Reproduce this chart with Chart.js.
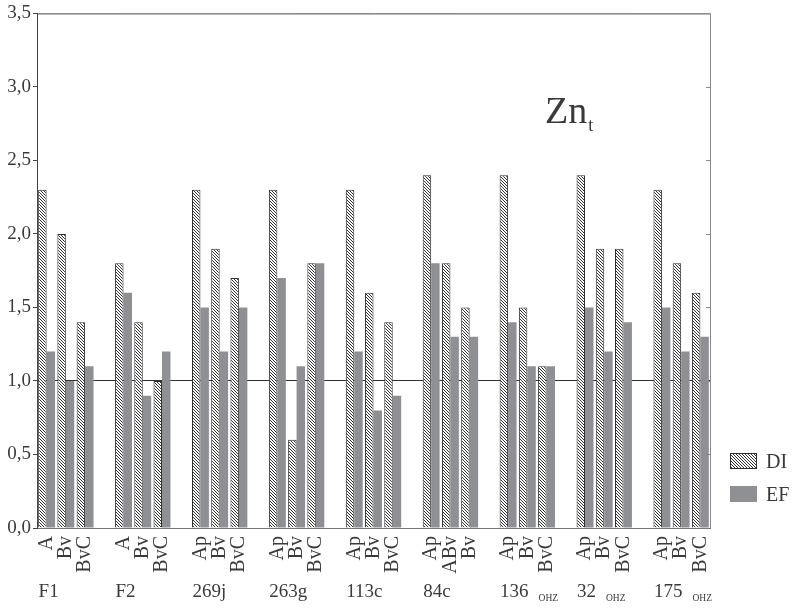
<!DOCTYPE html>
<html>
<head>
<meta charset="utf-8">
<script src="https://cdn.jsdelivr.net/npm/chart.js@4/dist/chart.umd.min.js"></script>
<style>
html,body{margin:0;padding:0;background:#fff;}
#wrap{width:793px;height:611px;position:relative;}
</style>
</head>
<body>
<div id="wrap"><canvas id="c" width="793" height="611"></canvas></div>
<script>
// ---- data ----
const groups = ['F1','F2','269j','263g','113c','84c','136','32','175'];
const groupSubs = ['','','','','','','OHZ','OHZ','OHZ'];
const horizons = [
  ['A','Bv','BvC'],['A','Bv','BvC'],['Ap','Bv','BvC'],['Ap','Bv','BvC'],['Ap','Bv','BvC'],
  ['Ap','ABv','Bv'],['Ap','Bv','BvC'],['Ap','Bv','BvC'],['Ap','Bv','BvC']
];
const diValues = [2.3,2.0,1.4, 1.8,1.4,1.0, 2.3,1.9,1.7, 2.3,0.6,1.8, 2.3,1.6,1.4, 2.4,1.8,1.5, 2.4,1.5,1.1, 2.4,1.9,1.9, 2.3,1.8,1.6];
const efValues = [1.2,1.0,1.1, 1.6,0.9,1.2, 1.5,1.2,1.5, 1.7,1.1,1.8, 1.2,0.8,0.9, 1.8,1.3,1.3, 1.4,1.1,1.1, 1.5,1.2,1.4, 1.5,1.2,1.3];
const seriesNames = ['DI','EF'];
const yMin = 0, yMax = 3.5, yStep = 0.5;
const refLine = 1.0;

// ---- build category table with empty gap slots between groups ----
const labels = [], di = [], ef = [], groupStart = [];
let k = 0;
horizons.forEach((hs, g) => {
  groupStart.push(labels.length);
  hs.forEach(h => { labels.push(h); di.push(diValues[k]); ef.push(efValues[k]); k++; });
  if (g < horizons.length - 1) { labels.push(''); di.push(null); ef.push(null); }
});

const SERIF = "'Liberation Serif', 'Times New Roman', serif";
const TXT = '#3a3a3a';
const GRAY = '#8f9094';

function hatch() {
  const p = document.createElement('canvas');
  p.width = 3; p.height = 3;
  const c = p.getContext('2d');
  c.fillStyle = '#fff'; c.fillRect(0,0,3,3);
  c.fillStyle = '#333';
  for (let i = 0; i < 3; i++) c.fillRect(i, i, 1, 1);
  return document.getElementById('c').getContext('2d').createPattern(p,'repeat');
}

const decor = {
  id: 'decor',
  afterDraw(chart) {
    const ctx = chart.ctx, a = chart.chartArea, x = chart.scales.x, y = chart.scales.y;
    ctx.save();
    ctx.strokeStyle = '#444'; ctx.lineWidth = 1;
    ctx.beginPath(); ctx.moveTo(a.left, a.top + 0.5); ctx.lineTo(a.right, a.top + 0.5); ctx.stroke();
    ctx.strokeStyle = '#888';
    ctx.beginPath(); ctx.moveTo(a.right + 0.5, a.top); ctx.lineTo(a.right + 0.5, a.bottom); ctx.stroke();
    for (let v = yMin + yStep; v < yMax; v += yStep) {
      const py = Math.round(y.getPixelForValue(v)) + 0.5;
      ctx.beginPath(); ctx.moveTo(a.right - 4, py); ctx.lineTo(a.right, py); ctx.stroke();
    }
    ctx.fillStyle = TXT;
    ctx.textBaseline = 'alphabetic';
    ctx.textAlign = 'left';
    groups.forEach((g, i) => {
      const px = x.getPixelForValue(groupStart[i]) - 8;
      ctx.font = '19px ' + SERIF;
      ctx.fillText(g, px, 597);
      if (groupSubs[i]) {
        const w = ctx.measureText(g).width;
        ctx.font = '9.5px ' + SERIF;
        ctx.fillText(groupSubs[i], px + w + 10, 601);
      }
    });
    ctx.font = '38px ' + SERIF;
    ctx.fillText('Zn', 545, 123);
    const zw = ctx.measureText('Zn').width;
    ctx.font = '18px ' + SERIF;
    ctx.fillText('t', 545 + zw + 1, 131);
    const ds = chart.data.datasets;
    [453, 486].forEach((top, i) => {
      ctx.fillStyle = ds[i].backgroundColor;
      ctx.fillRect(730, top, 27, 16);
      if (ds[i].borderWidth) {
        ctx.strokeStyle = ds[i].borderColor; ctx.lineWidth = 1;
        ctx.strokeRect(730.5, top + 0.5, 26, 15);
      }
      ctx.fillStyle = TXT;
      ctx.font = '20px ' + SERIF;
      ctx.fillText(ds[i].label, 766, top + 15);
    });
    ctx.restore();
  }
};

new Chart(document.getElementById('c'), {
  type: 'bar',
  data: {
    labels: labels,
    datasets: [
      { label: seriesNames[0], data: di, backgroundColor: hatch(), borderColor: '#2e2e2e', borderWidth: 1, borderSkipped: 'bottom' },
      { label: seriesNames[1], data: ef, backgroundColor: GRAY, borderWidth: 0 }
    ]
  },
  options: {
    responsive: false,
    animation: false,
    events: [],
    layout: { padding: { top: 13, right: 83, left: 0, bottom: 0 } },
    datasets: { bar: { categoryPercentage: 0.88, barPercentage: 1.0 } },
    plugins: { legend: { display: false }, tooltip: { enabled: false }, title: { display: false } },
    scales: {
      x: {
        offset: true,
        grid: { display: false, drawTicks: false },
        border: { display: true, color: '#777' },
        ticks: {
          autoSkip: false, minRotation: 90, maxRotation: 90, padding: 8,
          color: TXT, font: { family: SERIF, size: 20 }
        },
        afterFit(s) { s.height = 83; }
      },
      y: {
        min: yMin, max: yMax,
        grid: {
          drawOnChartArea: true, drawTicks: true, tickLength: 4,
          color: c => (c.tick && Math.abs(c.tick.value - refLine) < 1e-9) ? '#333' : 'rgba(0,0,0,0)',
          tickColor: '#444'
        },
        border: { display: true, color: '#444' },
        ticks: {
          stepSize: yStep, padding: 2, color: TXT, font: { family: SERIF, size: 19 },
          callback: v => v.toFixed(1).replace('.', ',')
        },
        afterFit(s) { s.width = 37; }
      }
    }
  },
  plugins: [decor]
});
</script>
</body>
</html>
